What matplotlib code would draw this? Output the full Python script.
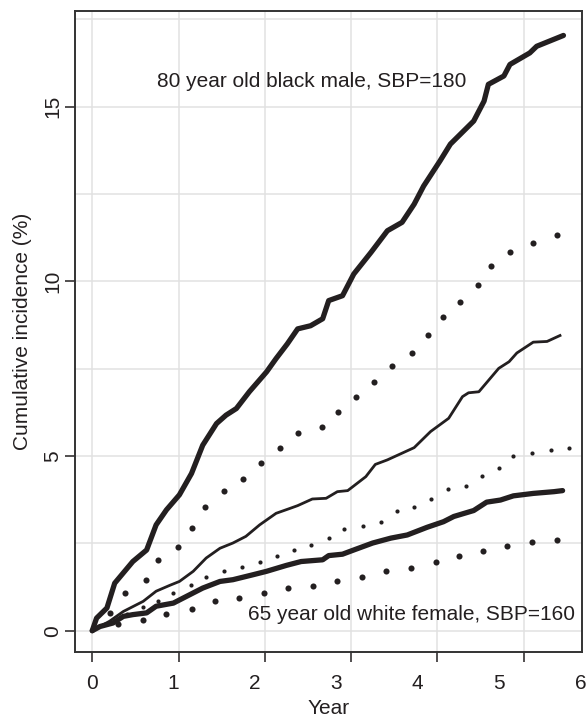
import matplotlib
matplotlib.use("Agg")
import matplotlib.pyplot as plt

# ---- data ----
bm_x = [0, 0.05, 0.17, 0.26, 0.47, 0.63, 0.74, 0.86, 1.01, 1.15, 1.28, 1.44, 1.55, 1.67, 1.82,
        2.02, 2.13, 2.26, 2.38, 2.53, 2.67, 2.74, 2.90, 3.03, 3.23, 3.42, 3.59, 3.73, 3.84, 4.03,
        4.15, 4.42, 4.54, 4.59, 4.77, 4.84, 5.07, 5.15, 5.46]
bm_y = [0, 0.36, 0.65, 1.36, 1.98, 2.31, 3.03, 3.46, 3.89, 4.50, 5.31, 5.93, 6.17, 6.36, 6.84,
        7.41, 7.79, 8.21, 8.64, 8.73, 8.93, 9.45, 9.59, 10.21, 10.83, 11.45, 11.69, 12.21, 12.73, 13.45,
        13.93, 14.59, 15.16, 15.64, 15.88, 16.21, 16.54, 16.73, 17.04]

bm_dot_x = [0.21, 0.38, 0.62, 0.76, 0.99, 1.15, 1.31, 1.53, 1.75, 1.96, 2.17, 2.38, 2.66, 2.85,
            3.06, 3.27, 3.47, 3.70, 3.89, 4.06, 4.26, 4.47, 4.62, 4.84, 5.11, 5.38]
bm_dot_y = [0.51, 1.08, 1.44, 2.02, 2.41, 2.95, 3.53, 4.00, 4.34, 4.79, 5.22, 5.65, 5.84, 6.27,
            6.69, 7.12, 7.58, 7.94, 8.47, 8.97, 9.42, 9.89, 10.43, 10.83, 11.11, 11.33]

thin_x = [0, 0.20, 0.36, 0.59, 0.74, 0.90, 1.01, 1.17, 1.32, 1.48, 1.63, 1.78, 1.94, 2.13, 2.29,
          2.38, 2.55, 2.71, 2.84, 2.96, 3.17, 3.28, 3.42, 3.73, 3.92, 4.13, 4.29, 4.36, 4.48,
          4.71, 4.83, 4.92, 5.11, 5.27, 5.42]
thin_y = [0, 0.27, 0.55, 0.84, 1.13, 1.30, 1.41, 1.70, 2.08, 2.36, 2.51, 2.70, 3.03, 3.36, 3.50,
          3.58, 3.77, 3.79, 3.98, 4.01, 4.41, 4.76, 4.89, 5.24, 5.70, 6.08, 6.70, 6.81, 6.84,
          7.51, 7.70, 7.95, 8.26, 8.28, 8.45]

small_dot_x = [0.20, 0.40, 0.59, 0.76, 0.94, 1.14, 1.32, 1.53, 1.73, 1.94, 2.14, 2.34, 2.54, 2.74,
               2.92, 3.14, 3.35, 3.53, 3.73, 3.93, 4.12, 4.33, 4.52, 4.71, 4.88, 5.09, 5.31, 5.52]
small_dot_y = [0.25, 0.47, 0.67, 0.86, 1.08, 1.30, 1.55, 1.70, 1.82, 1.96, 2.15, 2.31, 2.44, 2.65,
               2.91, 3.00, 3.12, 3.44, 3.55, 3.76, 4.05, 4.14, 4.43, 4.67, 5.01, 5.10, 5.17, 5.24]

wf_x = [0, 0.09, 0.24, 0.36, 0.47, 0.63, 0.74, 0.94, 1.09, 1.28, 1.48, 1.63, 1.86, 2.02, 2.25,
        2.42, 2.67, 2.74, 2.90, 3.03, 3.25, 3.46, 3.65, 3.88, 4.07, 4.19, 4.42, 4.57, 4.73,
        4.88, 5.11, 5.35, 5.45]
wf_y = [0, 0.12, 0.22, 0.41, 0.46, 0.51, 0.70, 0.79, 0.98, 1.22, 1.41, 1.46, 1.60, 1.70, 1.87,
        1.98, 2.03, 2.15, 2.19, 2.31, 2.51, 2.65, 2.74, 2.96, 3.12, 3.27, 3.44, 3.68, 3.74,
        3.86, 3.93, 3.98, 4.01]

wf_dot_x = [0.30, 0.59, 0.86, 1.15, 1.42, 1.70, 1.99, 2.27, 2.56, 2.84, 3.13, 3.40, 3.69, 3.98,
            4.25, 4.53, 4.81, 5.09, 5.38]
wf_dot_y = [0.20, 0.30, 0.49, 0.63, 0.86, 0.93, 1.07, 1.21, 1.29, 1.41, 1.54, 1.70, 1.79, 1.97,
            2.13, 2.29, 2.43, 2.53, 2.60]

x_ticks = [0, 1, 2, 3, 4, 5]
x_tick_labels = ["0", "1", "2", "3", "4", "5", "6"]
y_ticks = [0, 5, 10, 15]
y_tick_labels = ["0", "5", "10", "15"]

label_top = "80 year old black male, SBP=180"
label_bottom = "65 year old white female, SBP=160"
xlabel = "Year"
ylabel = "Cumulative incidence (%)"

# ---- style ----
plt.rcParams['font.family'] = ['Liberation Sans', 'DejaVu Sans']
ink = '#231f20'
fs = 15

fig = plt.figure(figsize=(5.88, 7.18), dpi=100)
ax = fig.add_axes([75/588, 1 - 652/718, (582-75)/588, (652-11)/718])

ax.set_xlim(-0.2, 5.675)
ax.set_ylim(-0.61, 17.74)

# grid
for gx in x_ticks:
    ax.axvline(gx, color='#e1e1e1', lw=1.1, zorder=0)
gy = 0.0
while gy <= 17.6:
    ax.axhline(gy, color='#e1e1e1', lw=1.1, zorder=0)
    gy += 2.5

ax.plot(bm_x, bm_y, color=ink, lw=3.8, solid_joinstyle='round', solid_capstyle='round', zorder=3)
ax.plot(thin_x, thin_y, color=ink, lw=2.0, solid_joinstyle='round', zorder=3)
ax.plot(wf_x, wf_y, color=ink, lw=3.8, solid_joinstyle='round', solid_capstyle='round', zorder=3)
ax.plot(bm_dot_x, bm_dot_y, ls='none', marker='o', ms=4.4, color=ink, mec='none', zorder=3)
ax.plot(wf_dot_x, wf_dot_y, ls='none', marker='o', ms=4.4, color=ink, mec='none', zorder=3)
ax.plot(small_dot_x, small_dot_y, ls='none', marker='o', ms=3.0, color=ink, mec='none', zorder=3)

ax.text(0.75, 15.73, label_top, fontsize=fs, color=ink, ha='left', va='center')
ax.text(5.59, 0.45, label_bottom, fontsize=fs, color=ink, ha='right', va='center')

# ticks
ax.xaxis.remove_overlapping_locs = False
ax.set_xticks(x_ticks)
ax.set_xticklabels([])
ax.set_xticks([i * 0.943 for i in range(len(x_tick_labels))], minor=True)
ax.set_xticklabels(x_tick_labels, minor=True, fontsize=fs, color=ink)
ax.tick_params(axis='x', which='minor', length=0, pad=15.5)
ax.tick_params(axis='x', which='major', length=7, width=1.1, color=ink)

ax.set_yticks(y_ticks)
ax.set_yticklabels(y_tick_labels, fontsize=fs, color=ink, rotation=90, va='center')
ax.tick_params(axis='y', length=7, width=1.1, color=ink, pad=2)

for s in ax.spines.values():
    s.set_color('#333333')
    s.set_linewidth(1.4)

ax.set_xlabel(xlabel, fontsize=fs, color=ink, labelpad=5)
ax.set_ylabel(ylabel, fontsize=fs, color=ink, labelpad=8)

fig.savefig("out.png", dpi=100)
